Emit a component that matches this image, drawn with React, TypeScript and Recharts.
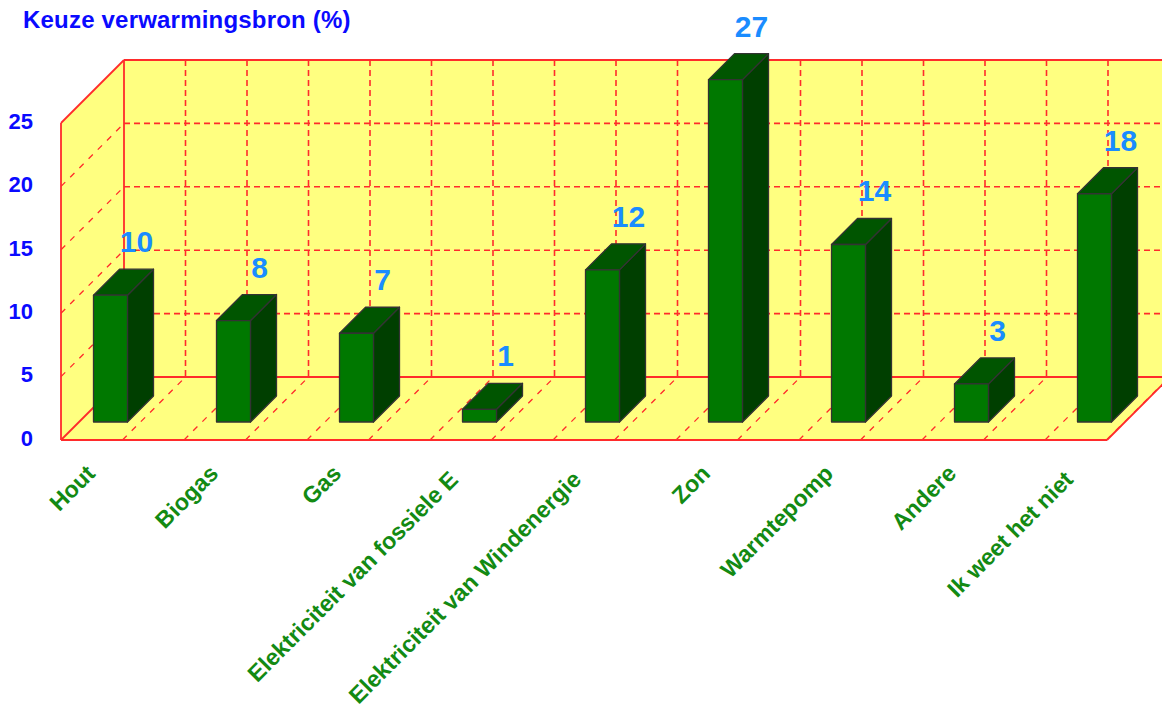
import React from "react";
import { BarChart, Bar, XAxis, YAxis, LabelList } from "recharts";

const categories = [
  "Hout",
  "Biogas",
  "Gas",
  "Elektriciteit van fossiele E",
  "Elektriciteit van Windenergie",
  "Zon",
  "Warmtepomp",
  "Andere",
  "Ik weet het niet",
];
const percentages = [10, 8, 7, 1, 12, 27, 14, 3, 18];
const yTicks = [0, 5, 10, 15, 20, 25];
const yMax = 27;

const data = categories.map((name, i) => ({ name, value: percentages[i] }));

// front plane of the box, the 25 line sits at FRONT_TOP
const FRONT_LEFT = 61;
const FRONT_RIGHT = 1107;
const FRONT_TOP = 123;
const FRONT_BOTTOM = 440;
const DEPTH = 63; // wall depth, same in x and y
const CHART_W = 1168;
const CHART_H = 708;
const UNIT = (FRONT_BOTTOM - FRONT_TOP) / 25;
const CELL = 61.5;

const RED = "#ff2b2b";
const YELLOW = "#ffff80";
const FONT = '"Liberation Sans", Arial, sans-serif';

// bar box sizes
const BAR_W = 34;
const BAR_DEPTH = 26;

const Walls = () => {
  const backLeft = FRONT_LEFT + DEPTH;
  const backRight = FRONT_RIGHT + DEPTH;
  const backTop = FRONT_TOP - DEPTH;
  const backBottom = FRONT_BOTTOM - DEPTH;
  const cols = Array.from({ length: 18 }, (_, i) => i);
  return (
    <g>
      <polygon
        points={`${backLeft},${backTop} ${backRight},${backTop} ${backRight},${backBottom} ${FRONT_RIGHT},${FRONT_BOTTOM} ${FRONT_LEFT},${FRONT_BOTTOM} ${FRONT_LEFT},${FRONT_TOP}`}
        fill={YELLOW}
      />
      {/* horizontal grid on the back wall, continuing down the side wall */}
      {yTicks.slice(1).map((t) => {
        const y = FRONT_BOTTOM - t * UNIT;
        return (
          <g key={t} stroke={RED} strokeWidth={1.6} strokeDasharray="6 4" fill="none">
            <line x1={backLeft} y1={y - DEPTH} x2={backRight} y2={y - DEPTH} />
            {t < 25 && (
              <line x1={FRONT_LEFT} y1={y} x2={backLeft} y2={y - DEPTH} strokeWidth={1.3} strokeDasharray="6 7" />
            )}
          </g>
        );
      })}
      {/* vertical grid and floor diagonals */}
      {cols.slice(1).map((i) => {
        const bx = backLeft + i * CELL;
        const fx = FRONT_LEFT + i * CELL;
        return (
          <g key={i} stroke={RED} strokeWidth={1.6} strokeDasharray="6 4" fill="none">
            <line x1={bx} y1={backTop} x2={bx} y2={backBottom} />
            <line x1={fx} y1={FRONT_BOTTOM} x2={bx} y2={backBottom} strokeWidth={1.3} strokeDasharray="6 7" />
          </g>
        );
      })}
      {/* solid frame */}
      <g stroke={RED} strokeWidth={1.8} fill="none">
        <line x1={backLeft} y1={backTop} x2={backRight} y2={backTop} />
        <line x1={backLeft} y1={backBottom} x2={backRight} y2={backBottom} />
        <line x1={backLeft} y1={backTop} x2={backLeft} y2={backBottom} />
        <line x1={FRONT_LEFT} y1={FRONT_TOP} x2={FRONT_LEFT} y2={FRONT_BOTTOM} />
        <line x1={FRONT_LEFT} y1={FRONT_BOTTOM} x2={FRONT_RIGHT} y2={FRONT_BOTTOM} />
        <line x1={FRONT_LEFT} y1={FRONT_TOP} x2={backLeft} y2={backTop} />
        <line x1={FRONT_LEFT} y1={FRONT_BOTTOM} x2={backLeft} y2={backBottom} />
        <line x1={FRONT_RIGHT} y1={FRONT_BOTTOM} x2={backRight} y2={backBottom} />
      </g>
    </g>
  );
};

// extruded bar: front face, top and right side
const Box = (props: any) => {
  const { x, y, width, height } = props;
  const left = x - 12.5;
  const top = y - 18;
  const right = left + width;
  const bottom = top + height;
  const d = BAR_DEPTH;
  return (
    <g stroke="#333333" strokeWidth={1.3} strokeLinejoin="round">
      <polygon
        points={`${right},${top} ${right + d},${top - d} ${right + d},${bottom - d} ${right},${bottom}`}
        fill="#003f00"
      />
      <polygon
        points={`${left},${top} ${left + d},${top - d} ${right + d},${top - d} ${right},${top}`}
        fill="#005500"
      />
      <rect x={left} y={top} width={width} height={height} fill="#007800" />
    </g>
  );
};

const ValueLabel = (props: any) => {
  const { x, y, width, value } = props;
  return (
    <text
      x={x + width / 2 + 13.5}
      y={y - 61}
      textAnchor="middle"
      fontFamily={FONT}
      fontWeight="bold"
      fontSize={30}
      fill="#1a8cff"
    >
      {value}
    </text>
  );
};

const CategoryTick = (props: any) => {
  const { x, payload } = props;
  // short names sit a little closer to the floor edge than the long ones
  const short = String(payload.value).length < 12;
  const tx = x - 30 + (short ? 4 : -2);
  const ty = 480 + (short ? -5 : 1);
  return (
    <text
      x={tx}
      y={ty}
      transform={`rotate(-45 ${tx} ${ty})`}
      textAnchor="end"
      fontFamily={FONT}
      fontWeight="bold"
      fontSize={23.2}
      fill="#138a13"
    >
      {payload.value}
    </text>
  );
};

export default function App() {
  return (
    <div
      style={{
        position: "absolute",
        left: 0,
        top: 0,
        width: 1162,
        height: 708,
        overflow: "hidden",
        background: "#ffffff",
      }}
    >
      <BarChart
        width={CHART_W}
        height={CHART_H}
        data={data}
        margin={{ top: FRONT_BOTTOM - yMax * UNIT, right: 0, bottom: 0, left: 0 }}
      >
        <Walls />
        <text
          x={23}
          y={28}
          fontFamily={FONT}
          fontWeight="bold"
          fontSize={24}
          letterSpacing={0.2}
          fill="#0a0aff"
        >
          Keuze verwarmingsbron (%)
        </text>
        <XAxis
          dataKey="name"
          interval={0}
          axisLine={false}
          tickLine={false}
          height={CHART_H - FRONT_BOTTOM}
          tick={<CategoryTick />}
        />
        <YAxis
          width={FRONT_LEFT}
          domain={[0, yMax]}
          ticks={yTicks}
          axisLine={false}
          tickLine={false}
          tickSize={0}
          tickMargin={28}
          tick={{ fill: "#0a0aff", fontSize: 22, fontWeight: "bold", fontFamily: FONT, dy: -2 }}
        />
        <Bar dataKey="value" barSize={BAR_W} shape={<Box />} isAnimationActive={false}>
          <LabelList dataKey="value" content={<ValueLabel />} />
        </Bar>
      </BarChart>
    </div>
  );
}
